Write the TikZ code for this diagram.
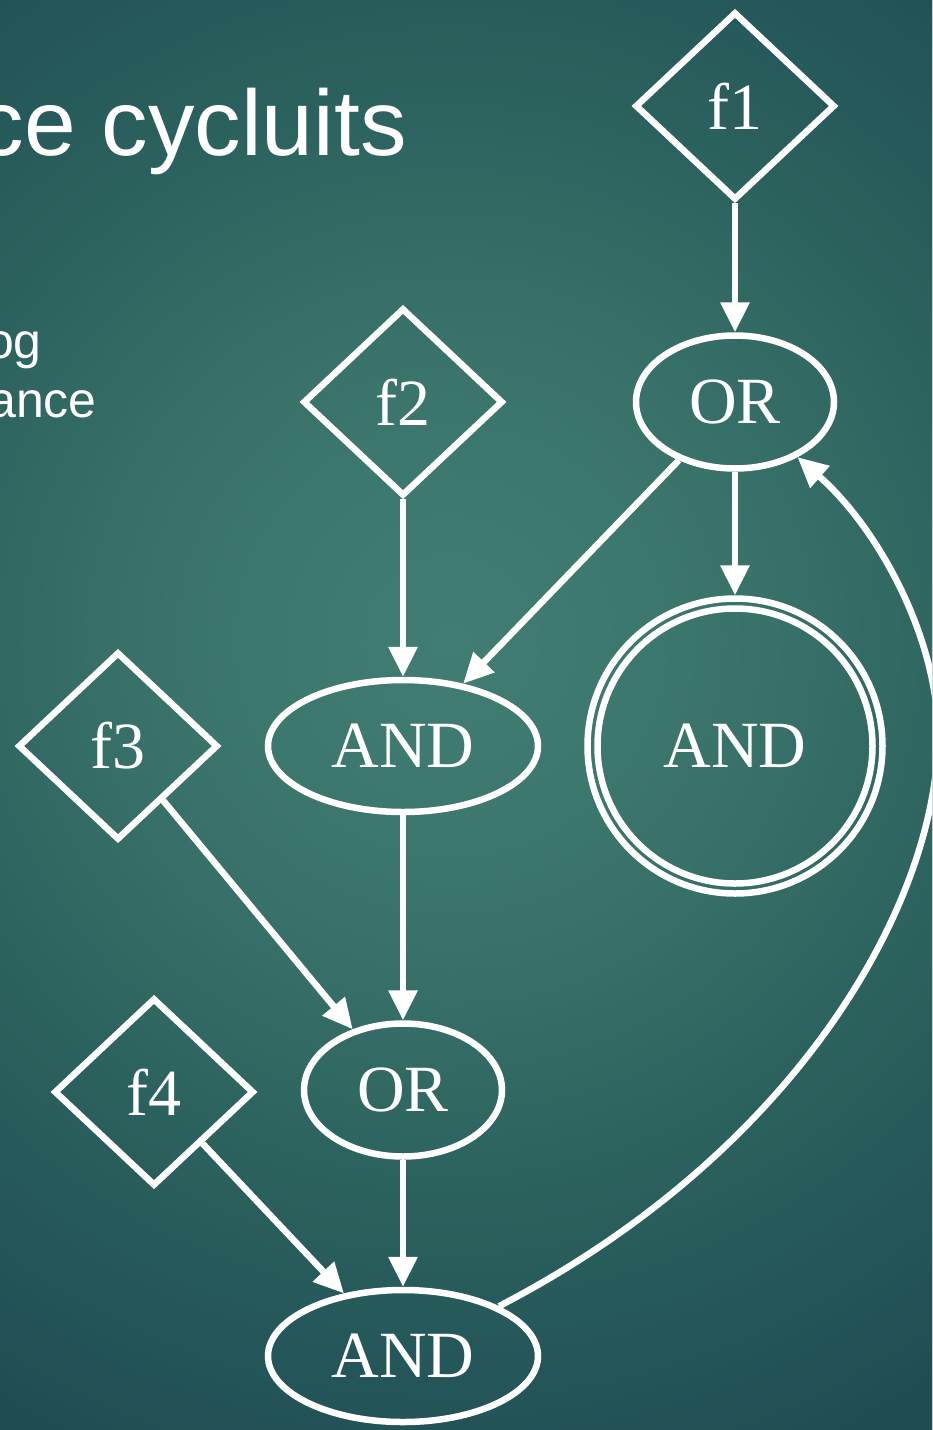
\documentclass[tikz,border=0pt]{standalone}
\usepackage{fontspec}
\usetikzlibrary{shapes.geometric,arrows.meta}
\newfontfamily\headfont{Liberation Sans}
\newfontfamily\gatefont{Liberation Serif}

% backdrop colours; TikZ fits the path to the inner 25bp radius of the shading,
% so with a 1000pt disc one bp stands for 40pt
\definecolor{bgA}{HTML}{417D72}
\definecolor{bgB}{HTML}{3D786E}
\definecolor{bgC}{HTML}{366F67}
\definecolor{bgD}{HTML}{2B615D}
\definecolor{bgE}{HTML}{25575A}
\definecolor{bgF}{HTML}{1F4D53}
\pgfdeclareradialshading{bgshade}{\pgfpoint{0bp}{0bp}}{%
  color(0bp)=(bgA); color(4.5bp)=(bgB); color(9bp)=(bgC);
  color(14bp)=(bgD); color(18bp)=(bgE); color(22bp)=(bgF);
  color(50bp)=(bgF)}

\tikzset{
  gate/.style={ellipse, draw=white, line width=6.5pt, inner sep=0pt,
    text=white, font=\gatefont\fontsize{66pt}{70pt}\selectfont},
  fact/.style={diamond, draw=white, line width=6.5pt, inner sep=0pt,
    minimum width=200pt, minimum height=188pt,
    text=white, font=\gatefont\fontsize{66pt}{70pt}\selectfont},
  orgate/.style={gate, minimum width=198pt, minimum height=133pt},
  andgate/.style={gate, minimum width=270pt, minimum height=132pt},
  goal/.style={circle, draw=white, line width=6.5pt, inner sep=0pt,
    minimum size=295pt, text=white,
    font=\gatefont\fontsize{66pt}{70pt}\selectfont},
  link/.style={draw=white, line width=6.5pt,
    -{Triangle[length=30pt,width=28pt]}},
  headline/.style={text=white, inner sep=0pt,
    font=\headfont\fontsize{93pt}{100pt}\selectfont},
  bodyline/.style={text=white, inner sep=0pt,
    font=\headfont\fontsize{50pt}{59pt}\selectfont},
}

\begin{document}
\begin{tikzpicture}[x=1pt, y=-1pt]
  \useasboundingbox (0,0) rectangle (932,1430);
  \begin{scope}
    \clip (0,0) rectangle (932,1430);
    % teal backdrop, lightest left of centre, darkening to the edges
    \fill[bgF] (0,0) rectangle (932,1430);
    \fill[shading=bgshade] (450,640) circle[radius=1000pt];

    % slide text
    \node[headline, anchor=base east] (title) at (407,155) {ce cycluits};
    \node[bodyline, anchor=base east] (line1) at (42,358) {og};
    \node[bodyline, anchor=base east] (line2) at (97,417) {ance};

    % facts
    \node[fact] (f1) at (735,106) {f1};
    \node[fact] (f2) at (403,402) {f2};
    \node[fact] (f3) at (118,746) {f3};
    \node[fact] (f4) at (154,1092) {f4};

    % gates
    \node[orgate]  (OR1)  at (735,402)  {OR};
    \node[andgate] (AND1) at (403,746)  {AND};
    \node[goal]    (ANDd) at (735,746)  {AND};
    \draw[white, line width=6.5pt] (ANDd.center) circle[radius=137.5pt];
    \node[orgate]  (OR2)  at (403,1090) {OR};
    \node[andgate] (AND2) at (403,1356) {AND};

    % connections
    \draw[link] (f1) -- (OR1);
    \draw[link] (OR1) -- (AND1);
    \draw[link] (OR1) -- (ANDd);
    \draw[link] (f2) -- (AND1);
    \draw[link] (AND1) -- (OR2);
    \draw[link] (f3) -- (OR2);
    \draw[link] (OR2) -- (AND2);
    \draw[link] (f4) -- (AND2);
    \draw[link] (AND2) .. controls (800,1150) and (938,900) .. (938,735)
                       .. controls (938,640) and (880,530) .. (OR1);
  \end{scope}
\end{tikzpicture}
\end{document}
